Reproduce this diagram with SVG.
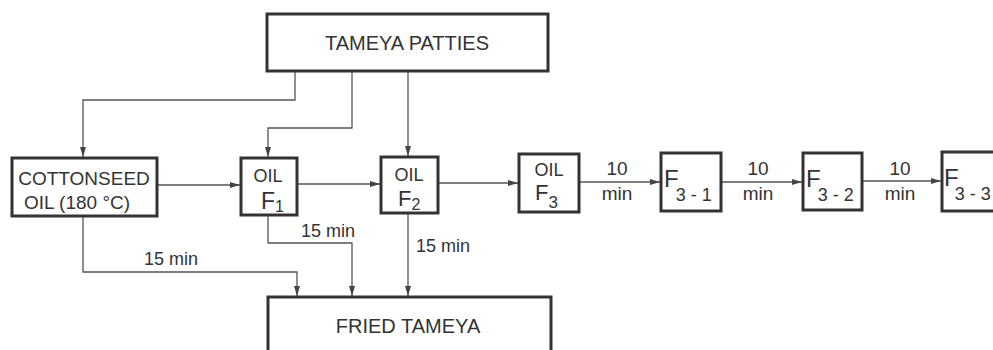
<svg xmlns="http://www.w3.org/2000/svg" width="993" height="350" viewBox="0 0 993 350">
<style>
.box{fill:#fff;stroke:#333;stroke-width:3}
.ln{fill:none;stroke:#555;stroke-width:1.3}
text{font-family:"Liberation Sans","DejaVu Sans",sans-serif;fill:#333}
.big{font-size:20px}
.mid{font-size:19px}
.lbl{font-size:18px}
.fb{font-size:24px}
.fs{font-size:18px}
</style>
<defs>
<marker id="ah" viewBox="0 0 10 6" refX="10" refY="3" markerWidth="10" markerHeight="6" markerUnits="userSpaceOnUse" orient="auto">
<path d="M0,0 L10,3 L0,6 z" fill="#444"/>
</marker>
</defs>
<rect width="993" height="350" fill="#fff"/>
<g id="connectors">
<path class="ln" marker-end="url(#ah)" d="M295,71 V100 H83 V157"/>
<path class="ln" marker-end="url(#ah)" d="M352,71 V128 H268 V157"/>
<path class="ln" marker-end="url(#ah)" d="M408,71 V156"/>
<path class="ln" marker-end="url(#ah)" d="M157,185 H240"/>
<path class="ln" marker-end="url(#ah)" d="M297,184 H380"/>
<path class="ln" marker-end="url(#ah)" d="M438,183 H518"/>
<path class="ln" marker-end="url(#ah)" d="M579,182 H660"/>
<path class="ln" marker-end="url(#ah)" d="M721,182 H802"/>
<path class="ln" marker-end="url(#ah)" d="M862,181 H941"/>
<path class="ln" marker-end="url(#ah)" d="M83,216 V272 H297 V296"/>
<path class="ln" marker-end="url(#ah)" d="M268,215 V243 H352 V296"/>
<path class="ln" marker-end="url(#ah)" d="M408,213 V296"/>
<text class="lbl" x="171" y="265" text-anchor="middle">15 min</text>
<text class="lbl" x="328" y="237" text-anchor="middle">15 min</text>
<text class="lbl" x="443" y="252" text-anchor="middle">15 min</text>
<text class="mid" x="617" y="175" text-anchor="middle">10</text>
<text class="mid" x="617" y="200" text-anchor="middle">min</text>
<text class="mid" x="758" y="175" text-anchor="middle">10</text>
<text class="mid" x="758" y="200" text-anchor="middle">min</text>
<text class="mid" x="900" y="175" text-anchor="middle">10</text>
<text class="mid" x="900" y="200" text-anchor="middle">min</text>
</g>
<g id="patties">
<rect class="box" x="267" y="14" width="281" height="57"/>
<text class="big" x="407" y="50" text-anchor="middle">TAMEYA PATTIES</text>
</g>
<g id="cottonseed">
<rect class="box" x="12" y="158" width="145" height="58"/>
<text class="mid" x="84" y="185" text-anchor="middle">COTTONSEED</text>
<text class="mid" x="77" y="209" text-anchor="middle">OIL (180 °C)</text>
</g>
<g id="f1">
<rect class="box" x="241" y="158" width="56" height="57"/>
<text class="lbl" x="268" y="182" text-anchor="middle">OIL</text>
<text x="261" y="209" style="font-size:23px">F<tspan dy="3" style="font-size:16px">1</tspan></text>
</g>
<g id="f2">
<rect class="box" x="381" y="157" width="57" height="56"/>
<text class="lbl" x="409" y="181" text-anchor="middle">OIL</text>
<text x="398" y="206" style="font-size:22px">F<tspan dy="4" style="font-size:16px">2</tspan></text>
</g>
<g id="f3">
<rect class="box" x="519" y="154" width="60" height="58"/>
<text class="lbl" x="549" y="176" text-anchor="middle">OIL</text>
<text x="535" y="200" style="font-size:22px">F<tspan dy="8" style="font-size:17px">3</tspan></text>
</g>
<g id="f31">
<rect class="box" x="661" y="153" width="60" height="58"/>
<text class="fb" x="664" y="187">F<tspan class="fs" dx="-3" dy="14">3 - 1</tspan></text>
</g>
<g id="f32">
<rect class="box" x="803" y="153" width="59" height="57"/>
<text class="fb" x="806" y="187">F<tspan class="fs" dx="-3" dy="14">3 - 2</tspan></text>
</g>
<g id="f33">
<rect class="box" x="942" y="152" width="60" height="59"/>
<text class="fb" x="944" y="186">F<tspan class="fs" dx="-4" dy="14">3 - 3</tspan></text>
</g>
<g id="fried">
<rect class="box" x="268" y="297" width="283" height="60"/>
<text class="big" x="408" y="333" text-anchor="middle">FRIED TAMEYA</text>
</g>
</svg>
